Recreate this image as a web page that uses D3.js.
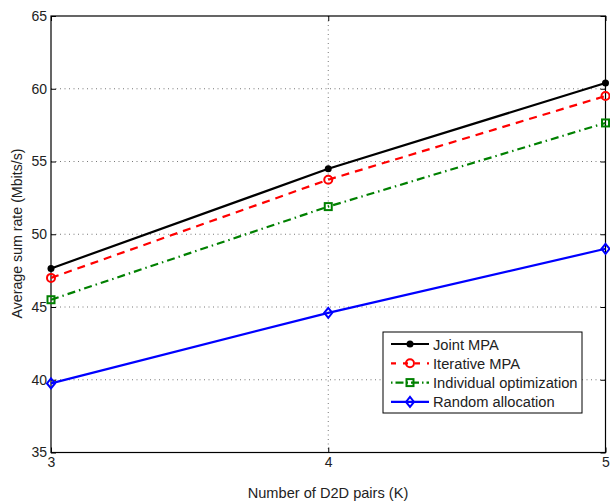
<!DOCTYPE html>
<html>
<head>
<meta charset="utf-8">
<script src="https://cdn.jsdelivr.net/npm/d3@7"></script>
<style>
  body { margin: 0; background: #fff; }
  text { font-family: "Liberation Sans", Arial, sans-serif; fill: #222; }
</style>
</head>
<body>
<div id="chart"></div>
<script>
var w = 610;
var h = 502;

var kValues = [3, 4, 5];
var jointMPA = [47.65, 54.5, 60.4];
var iterativeMPA = [47.0, 53.75, 59.5];
var individualOpt = [45.5, 51.9, 57.65];
var randomAlloc = [39.75, 44.6, 49.0];
var yTicks = [35, 40, 45, 50, 55, 60, 65];
var seriesNames = ["Joint MPA", "Iterative MPA", "Individual optimization", "Random allocation"];

var series = [
  { name: seriesNames[0], values: jointMPA, color: "#000", dash: null, marker: "dot" },
  { name: seriesNames[1], values: iterativeMPA, color: "#ff0000", dash: "8,6", marker: "circle" },
  { name: seriesNames[2], values: individualOpt, color: "#008000", dash: "8,4,1.5,4", marker: "square" },
  { name: seriesNames[3], values: randomAlloc, color: "#0000ff", dash: null, marker: "diamond" }
];

var pLeft = 51, pRight = 605.5, pTop = 16, pBottom = 452.5;

var x = d3.scaleLinear().domain([3, 5]).range([pLeft, pRight]);
var y = d3.scaleLinear().domain([35, 65]).range([pBottom, pTop]);

var svg = d3.select("#chart").append("svg")
  .attr("width", w).attr("height", h);

// grid
svg.selectAll(".gy").data(yTicks.slice(1, -1)).enter().append("line")
  .attr("x1", pLeft).attr("x2", pRight)
  .attr("y1", function(d) { return y(d); }).attr("y2", function(d) { return y(d); })
  .attr("stroke", "#555").attr("stroke-width", 0.8).attr("stroke-dasharray", "1,3.5");
svg.selectAll(".gx").data([4]).enter().append("line")
  .attr("x1", function(d) { return x(d); }).attr("x2", function(d) { return x(d); })
  .attr("y1", pTop).attr("y2", pBottom)
  .attr("stroke", "#555").attr("stroke-width", 0.8).attr("stroke-dasharray", "1,3.5");

// axes
var yAxis = d3.axisLeft(y).tickValues(yTicks).tickSize(-5).tickPadding(4);
var xAxis = d3.axisBottom(x).tickValues(kValues).tickFormat(d3.format("d")).tickSize(-5).tickPadding(5);

var gy = svg.append("g").attr("transform", "translate(" + pLeft + ",0)").call(yAxis);
var gx = svg.append("g").attr("transform", "translate(0," + pBottom + ")").call(xAxis);
svg.append("g").attr("transform", "translate(" + pRight + ",0)")
  .call(d3.axisRight(y).tickValues(yTicks).tickSize(-5).tickFormat(""));
svg.append("g").attr("transform", "translate(0," + pTop + ")")
  .call(d3.axisTop(x).tickValues(kValues).tickSize(-5).tickFormat(""));
svg.selectAll(".domain").remove();
svg.selectAll(".tick line").attr("stroke", "#000");
gy.selectAll("text").style("font-size", "14px").attr("fill", "#222");
gx.selectAll("text").style("font-size", "14px").attr("fill", "#222");

svg.append("rect").attr("x", pLeft).attr("y", pTop)
  .attr("width", pRight - pLeft).attr("height", pBottom - pTop)
  .attr("fill", "none").attr("stroke", "#000").attr("stroke-width", 1.2);

// lines
var line = d3.line()
  .x(function(d, i) { return x(kValues[i]); })
  .y(function(d) { return y(d); });

function drawMarker(g, type, color, cx, cy) {
  if (type === "dot") {
    g.append("circle").attr("cx", cx).attr("cy", cy).attr("r", 3.5).attr("fill", color);
  } else if (type === "circle") {
    g.append("circle").attr("cx", cx).attr("cy", cy).attr("r", 4).attr("fill", "none")
      .attr("stroke", color).attr("stroke-width", 2);
  } else if (type === "square") {
    g.append("rect").attr("x", cx - 3.5).attr("y", cy - 3.5).attr("width", 7).attr("height", 7)
      .attr("fill", "none").attr("stroke", color).attr("stroke-width", 2);
  } else {
    g.append("path").attr("d", "M" + cx + "," + (cy - 5) + "L" + (cx + 4) + "," + cy + "L" + cx + "," + (cy + 5) + "L" + (cx - 4) + "," + cy + "Z")
      .attr("fill", "none").attr("stroke", color).attr("stroke-width", 2);
  }
}

series.forEach(function(s) {
  svg.append("path").datum(s.values)
    .attr("d", line)
    .attr("fill", "none")
    .attr("stroke", s.color)
    .attr("stroke-width", 2.2)
    .attr("stroke-dasharray", s.dash);
  var g = svg.append("g");
  s.values.forEach(function(v, i) {
    drawMarker(g, s.marker, s.color, x(kValues[i]), y(v));
  });
});

// legend
var lg = svg.append("g");
lg.append("rect").attr("x", 383).attr("y", 332).attr("width", 199).attr("height", 81)
  .attr("fill", "#fff").attr("stroke", "#000").attr("stroke-width", 1);
series.forEach(function(s, i) {
  var ly = 344 + i * 19.3;
  lg.append("line").attr("x1", 391).attr("x2", 429).attr("y1", ly).attr("y2", ly)
    .attr("stroke", s.color).attr("stroke-width", 2.2)
    .attr("stroke-dasharray", s.dash ? (i === 1 ? "5,7" : "1.5,3,8,3") : null);
  drawMarker(lg, s.marker, s.color, 410, ly);
  lg.append("text").attr("x", 433).attr("y", ly + 5.5).text(s.name)
    .style("font-size", "14.7px");
});

// labels
svg.append("text").attr("x", 328).attr("y", 498)
  .attr("text-anchor", "middle").style("font-size", "14.6px")
  .text("Number of D2D pairs (K)");
svg.append("text").attr("transform", "translate(22," + ((145 + 322) / 2) + ") rotate(-90)")
  .attr("text-anchor", "middle").style("font-size", "14.2px")
  .text("Average sum rate (Mbits/s)");
</script>
</body>
</html>
